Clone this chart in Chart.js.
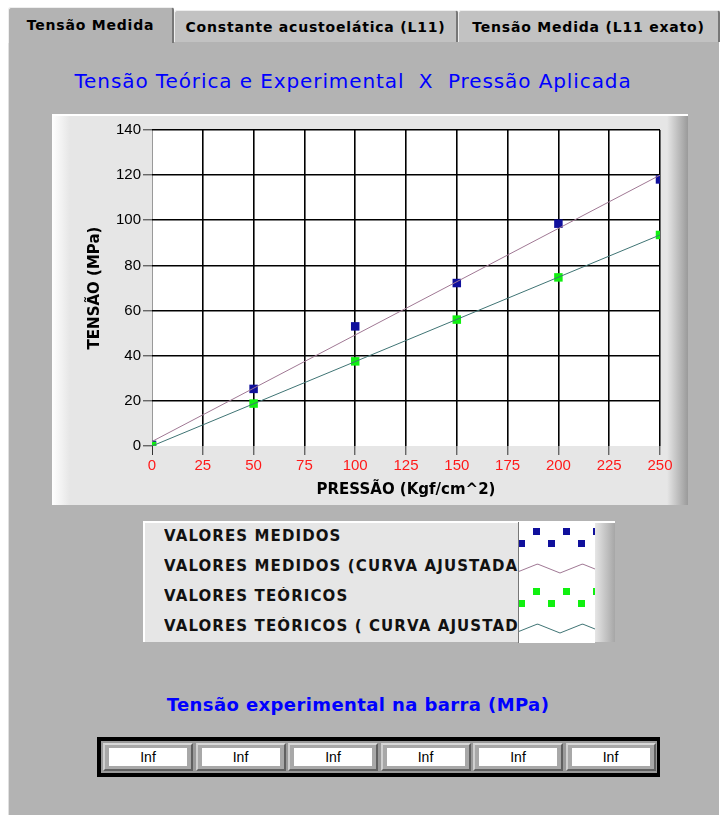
<!DOCTYPE html>
<html>
<head>
<meta charset="utf-8">
<script src="https://cdn.jsdelivr.net/npm/chart.js@4.4.1/dist/chart.umd.min.js"></script>
<style>
  body { margin: 0; background: #fff; width: 727px; height: 815px; position: relative; overflow: hidden; font-family: "DejaVu Sans", sans-serif; }
  .abs { position: absolute; }
  #panel { left: 8px; top: 42px; width: 711px; height: 773px; background: #b3b3b3; border-left: 1px solid #e0e0e0; box-sizing: border-box; }
  .tab { position: absolute; box-sizing: border-box; background: #c2c2c2; border: 1px solid #eee; border-bottom: none; border-right: 2px solid #777;
         border-radius: 3px 3px 0 0; font: bold 14px "DejaVu Sans"; letter-spacing: 0.8px; text-align: center; color: #000; }
  .tab.on { background: #b3b3b3; z-index: 2; }
  #title { left: 8px; width: 690px; top: 69px; text-align: center; color: #0000ff; font: 20px "DejaVu Sans"; letter-spacing: 0.9px; }
  #frame { left: 52px; top: 114px; width: 636px; height: 391px; box-sizing: border-box;
           background: linear-gradient(to right, #ffffff 0px, #e6e6e6 18px, #e6e6e6 615px, #9a9a9a 636px);
           border-top: 2px solid #fff; }
  #legend { left: 143px; top: 521px; width: 472px; height: 121px; box-sizing: border-box; border-top: 2px solid #fff; border-left: 2px solid #fff;
            background: linear-gradient(to right, #e6e6e6 0, #e6e6e6 450px, #a0a0a0 472px); }
  .lrow { position: absolute; left: 19px; width: 354px; height: 30px; line-height: 30px; overflow: hidden; white-space: nowrap;
          font: bold 15px "DejaVu Sans"; letter-spacing: 1.1px; color: #111; }
  #sw { position: absolute; left: 373px; top: -1px; border-left: 1px solid #777; }
  #sub { left: 8px; width: 700px; top: 694px; text-align: center; color: #0000ff; font: bold 18px "DejaVu Sans"; letter-spacing: 0.4px; }
  #arr { left: 97px; top: 737px; width: 563px; height: 40px; box-sizing: border-box; border: 4px solid #000; border-right-width: 3px; background: #9a9a9a; }
  .cell { position: absolute; top: 2px; width: 90px; height: 28px; box-sizing: border-box; background: #a8a8a8;
          border-top: 2px solid #d8d8d8; border-left: 2px solid #d0d0d0; border-bottom: 2px solid #606060; border-right: 2px solid #606060; }
  .cell span { position: absolute; left: 4px; right: 4px; top: 3px; height: 18px; background: #fff; text-align: center;
               font: 14px "Liberation Sans"; line-height: 18px; color: #000; }
</style>
</head>
<body>
<div id="panel" class="abs"></div>
<div class="tab on" style="left:8px;top:7px;width:166px;height:36px;line-height:34px;">Tensão Medida</div>
<div class="tab" style="left:174px;top:10px;width:284px;height:32px;line-height:32px;">Constante acustoelática (L11)</div>
<div class="tab" style="left:458px;top:10px;width:262px;height:32px;line-height:32px;">Tensão Medida (L11 exato)</div>

<div id="title" class="abs">Tensão Teórica e Experimental&nbsp; X&nbsp; Pressão Aplicada</div>

<div id="frame" class="abs"><canvas id="myChart" width="636" height="389"></canvas></div>

<div id="legend" class="abs">
  <div class="lrow" style="top:4px">VALORES MEDIDOS</div>
  <div class="lrow" style="top:34px">VALORES MEDIDOS (CURVA AJUSTADA)</div>
  <div class="lrow" style="top:64px">VALORES TEÓRICOS</div>
  <div class="lrow" style="top:94px">VALORES TEÓRICOS ( CURVA AJUSTADA)</div>
  <canvas id="sw" width="76" height="121"></canvas>
</div>

<div id="sub" class="abs">Tensão experimental na barra (MPa)</div>
<div id="arr" class="abs"></div>

<script>
// data
var pressao = [0, 50, 100, 150, 200, 250];
var medidos = [0.5, 25.3, 53, 72.2, 98.5, 118.1];
var teoricos = [0, 18.8, 37.5, 56, 74.7, 93.5];
var ajusteX = [0, 250];
var medidosAjuste = [2, 120];
var teoricosAjuste = [0, 93.5];
var xTicks = [0, 25, 50, 75, 100, 125, 150, 175, 200, 225, 250];
var tensaoBarra = ["Inf", "Inf", "Inf", "Inf", "Inf", "Inf"];

var corMedido = '#10109c';
var corTeorico = '#10f010';
var corAjMedido = '#a07894';
var corAjTeorico = '#3f7474';

function pts(xs, ys) {
    return xs.map(function (x, i) { return {x: x, y: ys[i]}; });
}

var plotBg = {
    id: 'plotBg',
    beforeDraw: function (chart) {
        var a = chart.chartArea, c = chart.ctx;
        c.save();
        c.fillStyle = '#fff';
        c.fillRect(a.left, a.top, a.right - a.left + 1, a.bottom - a.top);
        c.restore();
    }
};

var ctx = document.getElementById("myChart");
myChart = new Chart(ctx, {
    type: 'scatter',
    data: {
        datasets: [{
            label: 'VALORES MEDIDOS (CURVA AJUSTADA)',
            data: pts(ajusteX, medidosAjuste),
            showLine: true,
            borderColor: corAjMedido,
            borderWidth: 1,
            pointRadius: 0,
            clip: 0
        }, {
            label: 'VALORES TEÓRICOS ( CURVA AJUSTADA)',
            data: pts(ajusteX, teoricosAjuste),
            showLine: true,
            borderColor: corAjTeorico,
            borderWidth: 1,
            pointRadius: 0,
            clip: 0
        }, {
            label: 'VALORES TEÓRICOS',
            data: pts(pressao, teoricos),
            pointStyle: 'rect',
            pointRadius: 6,
            backgroundColor: corTeorico,
            borderColor: corTeorico,
            borderWidth: 0,
            clip: 0
        }, {
            label: 'VALORES MEDIDOS',
            data: pts(pressao, medidos),
            pointStyle: 'rect',
            pointRadius: 6,
            backgroundColor: corMedido,
            borderColor: corMedido,
            borderWidth: 0,
            clip: 0
        }]
    },
    options: {
        responsive: false,
        animation: false,
        events: [],
        layout: { padding: { top: 14, right: 28, left: 0, bottom: 0 } },
        plugins: { legend: { display: false }, tooltip: { enabled: false } },
        scales: {
            x: {
                type: 'linear', min: 0, max: 250,
                afterBuildTicks: function (s) { s.ticks = xTicks.map(function (v) { return {value: v}; }); },
                afterFit: function (s) { s.height = 59; },
                border: { display: false },
                grid: {
                    color: function (c) { return c.tick && c.tick.value === 0 ? '#999' : '#000'; },
                    lineWidth: function (c) { return c.tick && c.tick.value === 0 ? 1 : 1.6; },
                    tickColor: '#333', tickLength: 9, tickWidth: 1
                },
                ticks: { color: '#ff1a1a', font: { family: 'Liberation Sans', size: 15 }, padding: 2, maxRotation: 0, autoSkip: false },
                title: { display: true, text: 'PRESSÃO (Kgf/cm^2)', color: '#000',
                         font: { family: 'DejaVu Sans', size: 15, weight: 'bold' }, padding: { top: 0, bottom: 6 } }
            },
            y: {
                min: 0, max: 140,
                ticks: { stepSize: 20, color: '#000', font: { family: 'Liberation Sans', size: 15 }, padding: 2 },
                afterFit: function (s) { s.width = 100; },
                border: { display: false },
                grid: {
                    color: function (c) { return c.tick && c.tick.value === 0 ? 'rgba(0,0,0,0)' : '#000'; },
                    lineWidth: 1.6,
                    tickColor: '#333', tickLength: 9, tickWidth: 1
                },
                title: { display: true, text: 'TENSÃO (MPa)', color: '#000',
                         font: { family: 'DejaVu Sans', size: 15, weight: 'bold' }, padding: { top: 34, bottom: 0 } }
            }
        }
    },
    plugins: [plotBg]
});

// legend swatches
var sw = document.getElementById('sw').getContext('2d');
sw.fillStyle = '#fff';
sw.fillRect(0, 0, 76, 121);
function dots(row, color) {
    sw.fillStyle = color;
    for (var i = 0; i < 6; i++) {
        var x = 2 + i * 15, y = row * 30 + (i % 2 ? 9 : 21);
        sw.fillRect(x - 3, y - 3, 7, 7);
    }
}
function zig(row, color) {
    sw.strokeStyle = color;
    sw.lineWidth = 1;
    sw.beginPath();
    for (var x = 0; x <= 76; x += 1) {
        var p = ((x + 4) % 45) / 45;
        var t = p < 0.5 ? p * 2 : 2 - p * 2;
        var y = row * 30 + 21 - t * 9;
        if (x === 0) sw.moveTo(x, y); else sw.lineTo(x, y);
    }
    sw.stroke();
}
dots(0, corMedido);
zig(1, corAjMedido);
dots(2, corTeorico);
zig(3, corAjTeorico);

// indicator array
var arr = document.getElementById('arr');
tensaoBarra.forEach(function (v, i) {
    var d = document.createElement('div');
    d.className = 'cell';
    d.style.left = (2 + i * 92.5) + 'px';
    d.innerHTML = '<span>' + v + '</span>';
    arr.appendChild(d);
});
</script>
</body>
</html>
